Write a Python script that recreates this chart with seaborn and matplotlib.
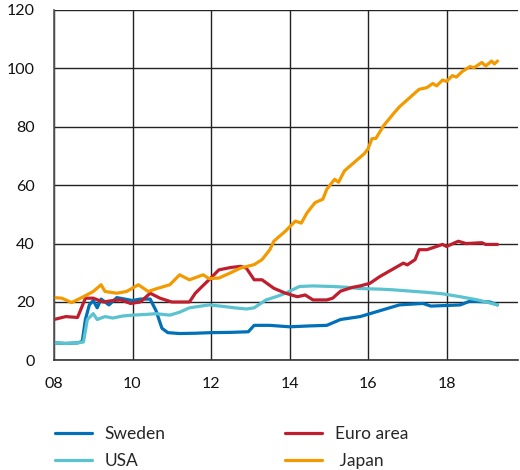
import pandas as pd
import matplotlib.pyplot as plt
import seaborn as sns

# values (decimal year, level)
sweden_t = [2008.0, 2008.3, 2008.6, 2008.72, 2008.8, 2008.9, 2009.0, 2009.1, 2009.2, 2009.4,
            2009.6, 2009.8, 2010.0, 2010.2, 2010.45, 2010.6, 2010.75, 2010.9, 2011.2, 2011.6,
            2012.0, 2012.5, 2012.95, 2013.1, 2013.5, 2014.0, 2014.5, 2014.95, 2015.3, 2015.8,
            2016.3, 2016.8, 2017.4, 2017.6, 2018.0, 2018.35, 2018.6, 2019.1, 2019.3]
sweden_v = [6, 5.8, 6, 6.5, 14, 19, 20.5, 18, 21, 19,
            21.5, 21, 20.5, 21, 21, 17, 11, 9.5, 9.2, 9.3,
            9.5, 9.6, 9.8, 12, 12, 11.5, 11.8, 12, 14, 15,
            17, 19, 19.5, 18.6, 18.8, 19, 20.3, 20, 19]

usa_t = [2008.0, 2008.3, 2008.6, 2008.75, 2008.85, 2009.0, 2009.1, 2009.3, 2009.5, 2009.75,
         2010.0, 2010.3, 2010.6, 2010.95, 2011.2, 2011.45, 2011.7, 2011.95, 2012.3, 2012.6,
         2012.9, 2013.1, 2013.4, 2013.7, 2013.9, 2014.25, 2014.6, 2015.1, 2015.5, 2015.8,
         2016.3, 2016.6, 2017.0, 2017.5, 2017.9, 2018.35, 2018.8, 2019.3]
usa_v = [6, 5.8, 6, 6.3, 14, 16, 14, 15, 14.5, 15.2,
         15.5, 15.7, 16, 15.5, 16.5, 18, 18.5, 19, 18.5, 18,
         17.6, 18, 20.7, 22, 23, 25.3, 25.5, 25.3, 25, 24.6,
         24.4, 24.2, 23.8, 23.3, 22.8, 21.8, 20.7, 19]

euro_t = [2008.0, 2008.3, 2008.6, 2008.8, 2009.0, 2009.25, 2009.5, 2009.7, 2009.95, 2010.2,
          2010.45, 2010.7, 2011.0, 2011.45, 2011.6, 2011.75, 2011.95, 2012.2, 2012.5, 2012.75,
          2012.9, 2013.1, 2013.3, 2013.6, 2013.9, 2014.2, 2014.4, 2014.6, 2014.95, 2015.1,
          2015.3, 2015.6, 2015.8, 2016.05, 2016.3, 2016.6, 2016.9, 2017.0, 2017.2, 2017.3,
          2017.5, 2017.9, 2018.0, 2018.3, 2018.5, 2018.9, 2019.0, 2019.3]
euro_v = [14, 15, 14.7, 21.3, 21.3, 20, 20.5, 20.7, 19.5, 20,
          23, 21.3, 20, 20, 23, 25, 27.6, 31, 31.8, 32.2,
          31.6, 27.6, 27.6, 24.7, 23, 21.8, 22.4, 20.7, 20.7, 21.3,
          23.7, 25, 25.5, 26.4, 28.7, 31, 33.3, 32.7, 34.5, 37.9,
          37.9, 39.7, 39, 40.8, 40, 40.3, 39.7, 39.7]

japan_t = [2008.0, 2008.2, 2008.45, 2008.75, 2009.0, 2009.2, 2009.3, 2009.6, 2009.85, 2010.15,
           2010.4, 2010.6, 2010.95, 2011.2, 2011.45, 2011.8, 2011.95, 2012.2, 2012.5, 2012.75,
           2013.1, 2013.3, 2013.5, 2013.6, 2013.9, 2014.15, 2014.3, 2014.45, 2014.65, 2014.85,
           2014.95, 2015.15, 2015.25, 2015.4, 2015.7, 2015.9, 2016.0, 2016.1, 2016.2, 2016.4,
           2016.65, 2016.8, 2017.15, 2017.3, 2017.5, 2017.65, 2017.75, 2017.9, 2018.0, 2018.15,
           2018.25, 2018.4, 2018.6, 2018.7, 2018.9, 2019.0, 2019.15, 2019.22, 2019.3]
japan_v = [21.5, 21.3, 19.8, 21.8, 23.6, 25.9, 23.6, 23, 23.6, 25.9,
           23.6, 24.5, 25.9, 29.3, 27.6, 29.3, 28, 28.2, 30, 31.6,
           32.8, 34.5, 37.9, 40.8, 44.3, 47.7, 47, 50.6, 54, 55.2,
           58.6, 62, 61, 64.9, 68.4, 70.7, 72.4, 75.9, 76, 80.4,
           84.5, 86.8, 91, 92.8, 93.4, 94.8, 94, 96, 95.5, 97.5,
           97, 98.9, 100.6, 100.2, 102, 100.8, 102.5, 101.5, 102.5]

series = [("Sweden", sweden_t, sweden_v, "#0070B8"),
          ("USA", usa_t, usa_v, "#5BC2D0"),
          ("Euro area", euro_t, euro_v, "#BE1E2D"),
          (" Japan", japan_t, japan_v, "#F29A00")]

x_ticks = [2008, 2010, 2012, 2014, 2016, 2018]
x_labels = ["08", "10", "12", "14", "16", "18"]
y_ticks = [0, 20, 40, 60, 80, 100, 120]

sns.set_style("white")
plt.rcParams['font.family'] = ['Lato', 'DejaVu Sans']

fig = plt.figure(figsize=(5.2, 4.7), dpi=100)
ax = fig.add_axes([54 / 520, 1 - 360.4 / 470, (518 - 54) / 520, (360.4 - 9.9) / 470])

for name, t, v, color in series:
    df = pd.DataFrame({"year": t, "value": v})
    sns.lineplot(data=df, x="year", y="value", color=color, linewidth=2.3,
                 ax=ax, label=name, legend=False)

ax.set_xlim(2008, 2008 + (518 - 54) / 39.25)
ax.set_ylim(0, 120)
ax.set_xticks(x_ticks)
ax.set_xticklabels(x_labels)
ax.set_yticks(y_ticks)
ax.set_xlabel("")
ax.set_ylabel("")
ax.tick_params(axis='both', length=0, labelsize=11.5, colors='#111111')
ax.tick_params(axis='y', pad=14)
ax.tick_params(axis='x', pad=12)

ax.grid(True, color='#222222', linewidth=1.0)
ax.set_axisbelow(True)
for side in ['top', 'right']:
    ax.spines[side].set_visible(False)
ax.spines['left'].set_color('#555555')
ax.spines['bottom'].set_color('#333333')
ax.spines['left'].set_linewidth(1.2)
ax.spines['bottom'].set_linewidth(1.2)

handles, labels = ax.get_legend_handles_labels()
fig.legend(handles, labels, ncol=2, loc='upper left', bbox_to_anchor=(0.106, 0.093),
           frameon=False, fontsize=12.5, handlelength=2.1, handletextpad=0.75,
           columnspacing=6.9, labelspacing=0.6, borderpad=0, borderaxespad=0)

fig.savefig("out.png", dpi=100)
